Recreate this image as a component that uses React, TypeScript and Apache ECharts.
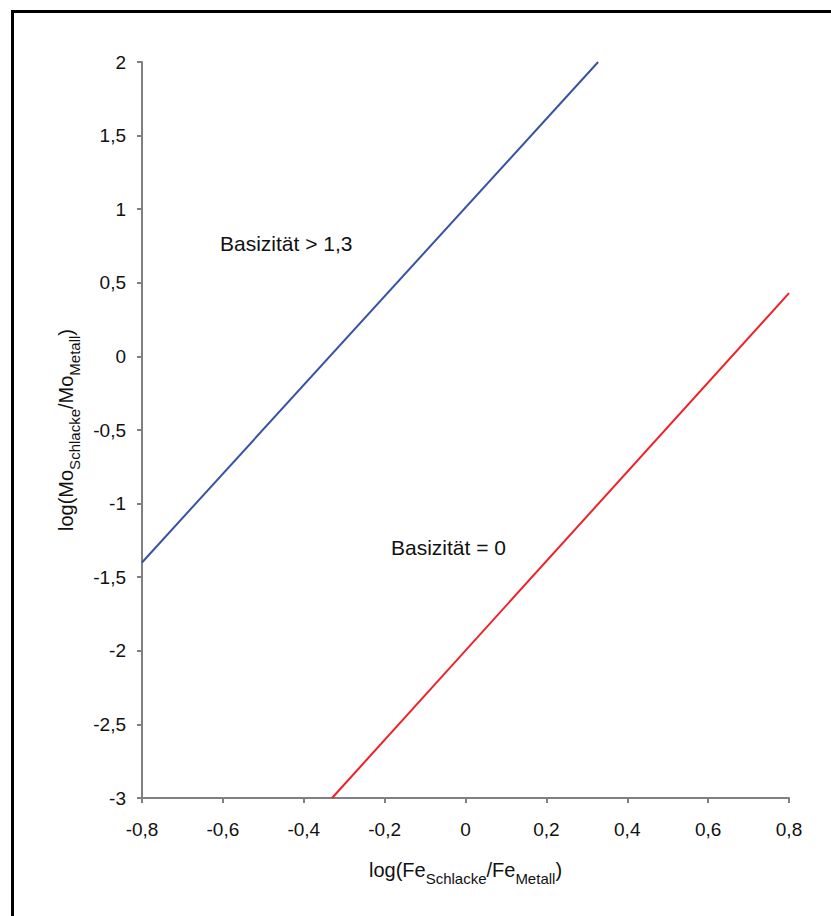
import React, { useEffect, useRef } from "react";
import * as echarts from "echarts";

// Straight-line relations between the Fe and Mo distribution ratios
const basicHighLine: [number, number][] = [
  [-0.8, -1.4],
  [0.328, 2],
];
const basicZeroLine: [number, number][] = [
  [-0.33, -3],
  [0.8, 0.43],
];
const seriesNames = ["Basizität > 1,3", "Basizität = 0"];
const seriesColors = ["#3A52A4", "#EE2128"];

const xMin = -0.8;
const xMax = 0.8;
const xStep = 0.2;
const yMin = -3;
const yMax = 2;
const yStep = 0.5;

const fmt = (v: number) => {
  const r = Math.round(v * 10) / 10;
  return String(r).replace(".", ",");
};

const FONT = "Liberation Sans, Arial, sans-serif";

const titleRich = {
  n: { fontSize: 20, fontFamily: FONT, color: "#111", verticalAlign: "bottom", lineHeight: 26 },
  s: { fontSize: 15, fontFamily: FONT, color: "#111", verticalAlign: "bottom", lineHeight: 26, padding: [0, 0, -6, 0] },
};

export default function App() {
  const ref = useRef<HTMLDivElement>(null);

  useEffect(() => {
    if (!ref.current) return;
    const chart = echarts.init(ref.current, undefined, { renderer: "svg" });
    const axisCommon = {
      axisLine: { show: true, onZero: false, lineStyle: { color: "#808080", width: 2 } },
      axisTick: { show: true, inside: false, length: 5, lineStyle: { color: "#808080", width: 2 } },
      splitLine: { show: false },
      axisLabel: {
        color: "#111",
        fontSize: 19,
        fontFamily: FONT,
        formatter: fmt,
      },
    };
    chart.setOption({
      animation: false,
      backgroundColor: "#fff",
      grid: { left: 142, top: 62, right: 42, bottom: 118, containLabel: false },
      xAxis: {
        type: "value",
        min: xMin,
        max: xMax,
        interval: xStep,
        ...axisCommon,
        axisLabel: { ...axisCommon.axisLabel, margin: 22 },
        name: "{n|log(Fe}{s|Schlacke}{n|/Fe}{s|Metall}{n|)}",
        nameLocation: "middle",
        nameGap: 56,
        nameTextStyle: { rich: titleRich },
      },
      yAxis: {
        type: "value",
        min: yMin,
        max: yMax,
        interval: yStep,
        ...axisCommon,
        axisLabel: { ...axisCommon.axisLabel, margin: 16 },
        name: "{n|log(Mo}{s|Schlacke}{n|/Mo}{s|Metall}{n|)}",
        nameLocation: "middle",
        nameRotate: 90,
        nameGap: 66,
        nameTextStyle: { rich: titleRich },
      },
      series: [
        {
          name: seriesNames[0],
          type: "line",
          data: basicHighLine,
          symbol: "none",
          lineStyle: { color: seriesColors[0], width: 2 },
        },
        {
          name: seriesNames[1],
          type: "line",
          data: basicZeroLine,
          symbol: "none",
          lineStyle: { color: seriesColors[1], width: 2 },
        },
      ],
      graphic: [
        {
          type: "rect",
          shape: { x: 12.5, y: 11.5, width: 900, height: 1000 },
          style: { fill: "none", stroke: "#000", lineWidth: 3 },
          silent: true,
        },
        {
          type: "text",
          x: 220,
          y: 243,
          style: { text: seriesNames[0], fontSize: 21, fontFamily: FONT, fill: "#111", verticalAlign: "middle" },
        },
        {
          type: "text",
          x: 391,
          y: 547,
          style: { text: seriesNames[1], fontSize: 21, fontFamily: FONT, fill: "#111", verticalAlign: "middle" },
        },
      ],
    });
    return () => chart.dispose();
  }, []);

  return (
    <div
      ref={ref}
      style={{ position: "fixed", left: 0, top: 0, width: 831, height: 916, background: "#fff" }}
    />
  );
}
